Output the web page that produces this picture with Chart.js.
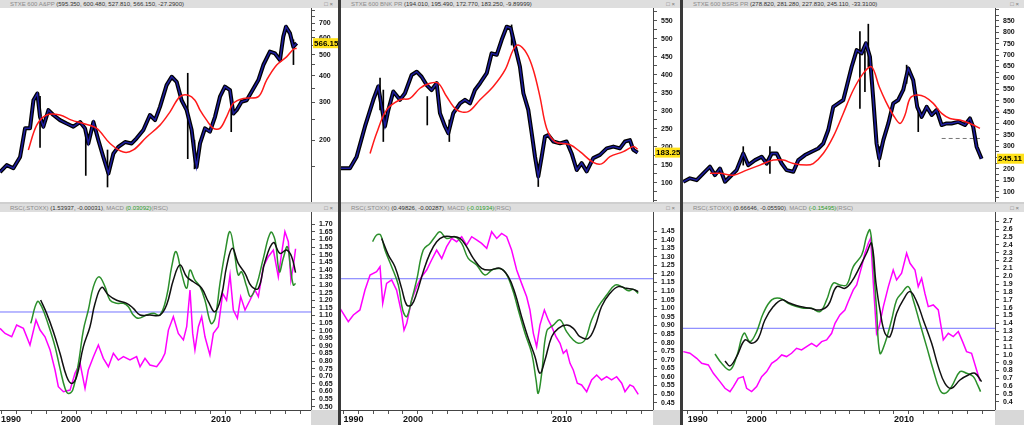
<!DOCTYPE html>
<html>
<head>
<meta charset="utf-8">
<script src="https://cdn.jsdelivr.net/npm/chart.js@4.4.0/dist/chart.umd.min.js"></script>
<style>
  body { margin: 0; width: 1024px; height: 425px; overflow: hidden; background: #fff; position: relative; font-family: "Liberation Sans", Arial, sans-serif; }
  .col { position: absolute; top: 0; height: 425px; background: #cfcfcf; }
  .bar { position: absolute; left: 0; right: 0; height: 8px; background: #dedede; font-size: 6px; line-height: 8px; color: #8a8a8a; white-space: nowrap; overflow: hidden; padding-left: 10px; box-sizing: border-box; }
  .bar b { font-weight: normal; color: #333; }
  .bar .g { color: #2a9a2a; }
  .bar .ic { position: absolute; right: 5px; top: 0; color: #777; }
  .sep { position: absolute; top: 0; width: 3px; height: 425px; background: #3a3a3a; }
  .corner { position: absolute; top: 410px; height: 15px; background: #d8d8d8; }
  canvas { position: absolute; left: 0; background: #fff; }
</style>
</head>
<body>
<script>
        // ---- STXE 600 A&PP ----
        const appPrice = [[1995.93,142],[1996.38,153],[1996.82,148],[1997.27,167],[1997.6,227],[1997.93,227],[1998.16,307],[1998.42,330],[1998.6,257],[1998.82,231],[1999.16,276],[1999.49,262],[1999.93,248],[2000.38,239],[2000.82,231],[2001.27,243],[2001.6,227],[2001.82,193],[2002.16,243],[2002.49,200],[2002.82,167],[2003.16,140],[2003.49,173],[2003.82,186],[2004.27,196],[2004.71,193],[2005.04,204],[2005.49,223],[2005.93,262],[2006.27,248],[2006.6,286],[2007.04,361],[2007.38,395],[2007.71,374],[2008.04,307],[2008.38,276],[2008.71,223],[2008.93,167],[2009.04,150],[2009.27,193],[2009.6,227],[2009.93,219],[2010.27,257],[2010.6,319],[2010.93,355],[2011.27,342],[2011.49,266],[2011.71,276],[2012.04,302],[2012.38,307],[2012.71,336],[2013.16,381],[2013.49,448],[2013.93,517],[2014.27,507],[2014.6,472],[2014.82,607],[2015.0,676],[2015.27,629],[2015.49,545],[2015.71,566.15]];
        const appAvg = [[1997.82,180],[1998.38,235],[1999.04,262],[1999.93,262],[2000.71,248],[2001.49,239],[2002.38,227],[2003.27,193],[2004.16,176],[2004.82,180],[2005.71,207],[2006.6,235],[2007.27,271],[2007.93,319],[2008.49,324],[2008.93,307],[2009.27,276],[2009.71,248],[2010.16,227],[2010.6,227],[2011.04,257],[2011.49,297],[2012.16,313],[2013.16,319],[2013.71,381],[2014.38,448],[2015.04,489],[2015.49,530],[2015.71,536]];
        const appSpikes = [[1998.6,185,320],[2001.65,137,223],[2003.1,121,180],[2008.45,164,410],[2008.9,147,200],[2011.35,219,286],[2015.5,450,587]];
        const appRsc = [[1995.93,1.015],[1996.27,0.982],[1996.71,0.96],[1997.04,1.037],[1997.49,1.015],[1997.93,0.906],[1998.33,1.07],[1998.6,1.004],[1998.93,0.96],[1999.27,0.873],[1999.6,0.741],[1999.82,0.631],[2000.16,0.598],[2000.6,0.609],[2000.93,0.719],[2001.27,0.785],[2001.6,0.62],[2001.82,0.741],[2002.16,0.829],[2002.49,0.906],[2002.82,0.818],[2003.16,0.763],[2003.49,0.851],[2003.82,0.807],[2004.16,0.829],[2004.6,0.807],[2005.04,0.829],[2005.27,0.763],[2005.6,0.818],[2005.93,0.774],[2006.38,0.763],[2006.71,0.807],[2006.93,0.851],[2007.16,1.004],[2007.49,1.092],[2007.82,0.982],[2008.16,0.939],[2008.38,1.026],[2008.6,1.268],[2008.78,0.982],[2008.93,0.873],[2009.16,1.026],[2009.38,1.092],[2009.6,0.96],[2009.93,0.84],[2010.16,0.982],[2010.49,1.026],[2010.78,1.246],[2011.04,1.2],[2011.27,1.366],[2011.49,1.136],[2011.76,1.081],[2011.98,1.224],[2012.27,1.136],[2012.6,1.2],[2012.93,1.268],[2013.16,1.224],[2013.49,1.421],[2013.82,1.487],[2014.16,1.531],[2014.49,1.355],[2014.71,1.509],[2014.93,1.652],[2015.16,1.586],[2015.33,1.333],[2015.49,1.421],[2015.64,1.539]];
        const appMacd = [[1997.98,1.048],[1998.42,1.191],[1998.71,1.158],[1999.16,1.037],[1999.6,0.895],[1999.93,0.752],[2000.27,0.62],[2000.49,0.587],[2000.78,0.609],[2001.16,0.785],[2001.49,1.004],[2001.82,1.136],[2002.16,1.29],[2002.53,1.355],[2002.93,1.29],[2003.27,1.2],[2003.71,1.18],[2004.16,1.18],[2004.49,1.158],[2004.82,1.103],[2005.16,1.081],[2005.71,1.103],[2006.16,1.114],[2006.6,1.103],[2007.04,1.224],[2007.38,1.421],[2007.67,1.52],[2008.04,1.377],[2008.38,1.279],[2008.6,1.399],[2008.93,1.333],[2009.27,1.29],[2009.6,1.2],[2010.0,1.048],[2010.27,1.081],[2010.6,1.311],[2010.93,1.509],[2011.27,1.652],[2011.6,1.487],[2011.82,1.366],[2012.04,1.388],[2012.38,1.29],[2012.64,1.224],[2013.04,1.3],[2013.49,1.476],[2013.98,1.647],[2014.27,1.597],[2014.56,1.388],[2014.82,1.476],[2015.09,1.553],[2015.31,1.41],[2015.49,1.3],[2015.64,1.311]];
        const appSignal = [[1998.64,1.202],[1999.04,1.114],[1999.49,0.993],[1999.93,0.851],[2000.38,0.697],[2000.71,0.653],[2001.04,0.697],[2001.49,0.895],[2001.93,1.026],[2002.27,1.18],[2002.71,1.285],[2003.16,1.235],[2003.71,1.2],[2004.38,1.18],[2004.82,1.147],[2005.27,1.103],[2005.93,1.103],[2006.6,1.103],[2007.04,1.169],[2007.49,1.333],[2007.93,1.432],[2008.38,1.355],[2008.82,1.322],[2009.38,1.279],[2009.82,1.191],[2010.27,1.125],[2010.71,1.235],[2011.04,1.421],[2011.42,1.542],[2011.82,1.443],[2012.27,1.377],[2012.71,1.29],[2013.16,1.279],[2013.6,1.454],[2014.16,1.579],[2014.6,1.509],[2015.04,1.531],[2015.38,1.487],[2015.64,1.382]];
        const appRef = 1.123;

        // ---- STXE 600 BNK PR ----
        const bnkPrice = [[1995.77,140],[1996.44,140],[1996.89,172],[1997.45,256],[1998.01,330],[1998.34,367],[1998.57,311],[1998.79,256],[1999.02,302],[1999.35,353],[1999.8,330],[2000.13,348],[2000.58,399],[2000.92,408],[2001.25,394],[2001.59,371],[2001.92,357],[2002.26,376],[2002.48,293],[2002.82,256],[2003.04,237],[2003.38,293],[2003.83,320],[2004.16,330],[2004.5,320],[2004.83,357],[2005.17,376],[2005.62,404],[2005.95,459],[2006.29,455],[2006.62,496],[2006.96,533],[2007.23,529],[2007.52,478],[2007.85,422],[2008.08,348],[2008.41,302],[2008.64,237],[2008.86,172],[2009.08,117],[2009.31,172],[2009.53,228],[2009.75,232],[2010.09,214],[2010.54,209],[2010.98,214],[2011.32,181],[2011.66,135],[2011.99,154],[2012.33,131],[2012.77,168],[2013.22,177],[2013.67,195],[2014.12,200],[2014.56,195],[2014.9,214],[2015.23,218],[2015.46,191],[2015.75,183.25]];
        const bnkAvg = [[1997.79,181],[1998.23,237],[1998.9,302],[1999.8,330],[2000.47,334],[2001.14,362],[2001.81,376],[2002.37,376],[2002.93,339],[2003.6,302],[2004.38,297],[2005.17,330],[2006.06,367],[2006.85,413],[2007.4,469],[2007.74,482],[2008.3,459],[2008.75,413],[2009.19,339],[2009.64,251],[2010.2,214],[2011.21,205],[2011.88,186],[2012.77,156],[2013.33,152],[2013.89,172],[2014.79,186],[2015.46,200],[2015.75,193]];
        const bnkSpikes = [[1998.46,302,390],[1998.68,214,357],[2001.63,260,339],[2003.11,214,274],[2007.29,482,538],[2009.08,89,140]];
        const bnkRsc = [[1995.77,1.0],[1996.33,0.922],[1996.67,0.961],[1997.11,0.99],[1997.45,1.106],[1997.79,1.194],[1998.23,1.213],[1998.46,1.242],[1998.64,1.029],[1998.9,1.145],[1999.24,1.165],[1999.57,1.106],[1999.91,0.97],[2000.07,0.873],[2000.25,0.912],[2000.58,1.048],[2000.92,1.126],[2001.25,1.184],[2001.59,1.223],[2001.92,1.281],[2002.26,1.339],[2002.6,1.29],[2002.93,1.359],[2003.27,1.407],[2003.6,1.388],[2003.94,1.417],[2004.27,1.368],[2004.61,1.417],[2004.94,1.398],[2005.28,1.378],[2005.62,1.349],[2005.95,1.446],[2006.29,1.407],[2006.62,1.436],[2006.96,1.417],[2007.29,1.339],[2007.63,1.223],[2007.96,1.145],[2008.3,1.067],[2008.52,0.99],[2008.75,0.854],[2008.97,0.776],[2009.19,0.902],[2009.49,0.99],[2009.75,0.932],[2009.98,0.893],[2010.27,0.834],[2010.54,0.796],[2010.76,0.737],[2010.98,0.757],[2011.21,0.679],[2011.43,0.64],[2011.7,0.563],[2011.99,0.553],[2012.33,0.514],[2012.66,0.582],[2013.0,0.611],[2013.33,0.582],[2013.67,0.601],[2014.0,0.582],[2014.34,0.601],[2014.68,0.563],[2014.9,0.514],[2015.23,0.553],[2015.46,0.543],[2015.79,0.498]];
        const bnkMacd = [[1997.96,1.388],[1998.23,1.427],[1998.5,1.427],[1998.79,1.339],[1999.24,1.242],[1999.69,1.135],[1999.98,0.99],[2000.25,0.951],[2000.58,1.048],[2000.92,1.165],[2001.36,1.339],[2001.81,1.378],[2002.15,1.417],[2002.48,1.446],[2002.93,1.407],[2003.49,1.417],[2003.94,1.378],[2004.38,1.291],[2004.94,1.252],[2005.5,1.194],[2006.06,1.227],[2006.73,1.223],[2007.29,1.126],[2007.74,0.99],[2008.19,0.854],[2008.64,0.737],[2008.93,0.582],[2009.08,0.504],[2009.31,0.621],[2009.64,0.864],[2010.09,0.902],[2010.54,0.932],[2010.98,0.864],[2011.43,0.815],[2011.77,0.796],[2012.21,0.815],[2012.66,0.932],[2013.11,1.01],[2013.67,1.077],[2014.23,1.135],[2014.68,1.126],[2015.12,1.102],[2015.46,1.11],[2015.79,1.087]];
        const bnkSignal = [[1998.57,1.407],[1999.02,1.31],[1999.46,1.242],[1999.91,1.116],[2000.25,1.019],[2000.58,1.019],[2000.92,1.087],[2001.36,1.213],[2001.81,1.32],[2002.26,1.388],[2002.71,1.417],[2003.27,1.417],[2003.83,1.407],[2004.27,1.359],[2004.72,1.291],[2005.28,1.233],[2005.84,1.223],[2006.51,1.233],[2007.07,1.184],[2007.52,1.087],[2007.96,0.951],[2008.41,0.825],[2008.86,0.718],[2009.19,0.621],[2009.53,0.699],[2009.98,0.834],[2010.43,0.883],[2010.98,0.902],[2011.43,0.883],[2011.88,0.834],[2012.44,0.825],[2012.89,0.893],[2013.33,1.01],[2013.89,1.087],[2014.45,1.126],[2015.01,1.116],[2015.46,1.11],[2015.79,1.097]];
        const bnkRef = 1.172;

        // ---- STXE 600 BSRS PR ----
        const bsrsPrice = [[1995.7,144],[1996.15,159],[1996.61,151],[1997.06,181],[1997.51,210],[1997.85,173],[1998.19,202],[1998.53,144],[1998.87,166],[1999.32,195],[1999.77,268],[2000.11,217],[2000.57,239],[2001.02,254],[2001.36,224],[2001.7,268],[2002.04,268],[2002.38,224],[2002.71,195],[2003.17,188],[2003.51,239],[2003.96,261],[2004.41,276],[2004.86,290],[2005.2,312],[2005.54,371],[2005.88,473],[2006.22,488],[2006.56,503],[2006.79,561],[2007.13,649],[2007.47,722],[2007.81,708],[2008.1,752],[2008.37,693],[2008.6,503],[2008.82,312],[2009.0,246],[2009.28,327],[2009.62,400],[2009.95,488],[2010.29,503],[2010.63,547],[2010.97,642],[2011.31,590],[2011.58,473],[2011.88,429],[2012.22,473],[2012.56,437],[2012.9,459],[2013.24,393],[2013.57,400],[2013.91,400],[2014.37,407],[2014.82,393],[2015.16,422],[2015.38,385],[2015.61,298],[2015.95,245.11]];
        const bsrsAvg = [[1997.51,181],[1998.19,181],[1999.1,173],[2000.0,195],[2000.9,217],[2001.81,239],[2002.49,239],[2003.17,224],[2004.07,217],[2004.52,224],[2005.2,268],[2005.88,342],[2006.56,444],[2007.24,547],[2007.92,620],[2008.48,649],[2009.0,561],[2009.46,495],[2009.95,437],[2010.41,400],[2010.75,437],[2011.09,510],[2011.54,525],[2012.1,517],[2012.67,488],[2013.24,444],[2013.8,422],[2014.48,415],[2015.16,400],[2015.84,378]];
        const bsrsSpikes = [[1999.77,217,298],[2001.58,181,298],[2007.69,466,803],[2008.03,540,720],[2008.26,649,836],[2009.0,210,298],[2010.86,576,656],[2011.65,364,459]];
        const bsrsFloor = [[2013.24,334],[2015.84,334]];
        const bsrsRsc = [[1995.7,1.041],[1996.15,1.02],[1996.61,0.956],[1996.95,0.893],[1997.4,0.871],[1997.74,0.765],[1998.19,0.659],[1998.53,0.574],[1998.87,0.532],[1999.1,0.596],[1999.43,0.702],[1999.77,0.723],[2000.0,0.574],[2000.34,0.532],[2000.68,0.596],[2001.02,0.723],[2001.36,0.787],[2001.7,0.893],[2002.04,0.935],[2002.38,0.999],[2002.71,0.978],[2003.05,1.02],[2003.39,1.083],[2003.73,1.062],[2004.07,1.105],[2004.41,1.147],[2004.75,1.105],[2005.09,1.168],[2005.43,1.19],[2005.77,1.274],[2006.0,1.402],[2006.33,1.508],[2006.67,1.571],[2006.9,1.678],[2007.24,1.826],[2007.47,1.89],[2007.81,2.123],[2008.03,2.293],[2008.26,2.42],[2008.42,2.484],[2008.6,1.911],[2008.82,1.274],[2009.0,1.359],[2009.28,1.614],[2009.62,1.868],[2009.95,2.08],[2010.18,1.953],[2010.52,2.038],[2010.86,2.293],[2011.09,2.165],[2011.43,2.08],[2011.65,1.868],[2011.88,1.974],[2012.1,1.784],[2012.33,1.614],[2012.67,1.635],[2013.01,1.571],[2013.35,1.19],[2013.69,1.274],[2014.03,1.232],[2014.37,1.296],[2014.66,1.168],[2014.93,1.041],[2015.27,1.02],[2015.61,0.808],[2015.84,0.666]];
        const bsrsMacd = [[1997.85,1.011],[1998.3,0.893],[1998.87,0.808],[1999.32,0.978],[1999.82,1.274],[2000.23,1.168],[2000.68,1.296],[2001.13,1.529],[2001.7,1.699],[2002.26,1.72],[2002.83,1.656],[2003.28,1.622],[2003.85,1.593],[2004.41,1.593],[2004.98,1.55],[2005.43,1.699],[2005.88,1.911],[2006.33,1.89],[2006.79,1.89],[2007.24,2.123],[2007.81,2.271],[2008.14,2.505],[2008.37,2.59],[2008.55,2.293],[2008.82,1.571],[2009.05,1.02],[2009.39,1.147],[2009.84,1.444],[2010.18,1.699],[2010.52,1.784],[2010.97,1.868],[2011.31,1.699],[2011.76,1.402],[2012.22,1.105],[2012.67,0.808],[2013.12,0.553],[2013.46,0.51],[2013.91,0.596],[2014.48,0.787],[2014.93,0.766],[2015.38,0.723],[2015.68,0.617],[2015.88,0.532]];
        const bsrsSignal = [[1998.53,0.922],[1998.87,0.859],[1999.32,0.978],[1999.89,1.19],[2000.34,1.147],[2000.79,1.211],[2001.24,1.444],[2001.81,1.614],[2002.38,1.699],[2002.94,1.656],[2003.62,1.614],[2004.3,1.593],[2004.98,1.571],[2005.54,1.635],[2006.11,1.868],[2006.67,1.847],[2007.13,1.932],[2007.69,2.123],[2008.14,2.293],[2008.48,2.42],[2008.78,1.911],[2009.05,1.571],[2009.39,1.274],[2009.73,1.232],[2010.18,1.529],[2010.63,1.699],[2011.09,1.805],[2011.54,1.678],[2011.99,1.444],[2012.56,1.147],[2013.01,0.85],[2013.46,0.638],[2013.91,0.574],[2014.48,0.68],[2015.05,0.744],[2015.5,0.766],[2015.95,0.659]];
        const bsrsRef = 1.338;

        // ---- axis ticks ----
        const yearTicks = steps(1996, 2016, 1);
        const yearLabels = { 1996: '1990', 2000: '2000', 2010: '2010' };
        const appPriceTicks = [150, 200, 250, 300, 350, 400, 450, 500, 550, 600, 650, 700, 750, 800];
        const appPriceLabels = [200, 300, 400, 500, 600, 700];
        const bnkPriceTicks = steps(50, 575, 25);
        const bnkPriceLabels = steps(100, 550, 50);
        const bsrsPriceTicks = steps(75, 900, 25);
        const bsrsPriceLabels = steps(100, 850, 50);
        const appRscTicks = steps(0.5, 1.7, 0.05);
        const bnkRscTicks = steps(0.45, 1.45, 0.05);
        const bsrsRscTicks = steps(0.4, 2.7, 0.1);

        function steps(lo, hi, step) {
            const out = [];
            for (let v = lo; v <= hi + step / 2; v += step) out.push(Math.round(v * 1000) / 1000);
            return out;
        }

        function pairs(list) {
            return list.map(p => ({ x: p[0], y: p[1] }));
        }

        const columns = [
            {
                left: 0, width: 338, plotW: 311, xMin: 1995.93, xMax: 2016.67,
                name: 'STXE 600 A&amp;PP', quote: '(595.350, 600.480, 527.810, 566.150, -27.2900)',
                rscQuote: '(1.53937, -0.00031)', macdQuote: '(0.03092)',
                price: appPrice, avg: appAvg, spikes: appSpikes, floor: null,
                priceType: 'logarithmic', priceMin: 103, priceMax: 826, priceTicks: appPriceTicks, priceLabels: appPriceLabels,
                rsc: appRsc, macd: appMacd, signal: appSignal, ref: appRef,
                rscMin: 0.478, rscMax: 1.781, rscTicks: appRscTicks, rscDigits: 2
            },
            {
                left: 341, width: 339, plotW: 312, xMin: 1995.84, xMax: 2016.78,
                name: 'STXE 600 BNK PR', quote: '(194.010, 195.490, 172.770, 183.250, -9.89999)',
                rscQuote: '(0.49826, -0.00287)', macdQuote: '(-0.01934)',
                price: bnkPrice, avg: bnkAvg, spikes: bnkSpikes, floor: null,
                priceType: 'linear', priceMin: 46, priceMax: 585, priceTicks: bnkPriceTicks, priceLabels: bnkPriceLabels,
                rsc: bnkRsc, macd: bnkMacd, signal: bnkSignal, ref: bnkRef,
                rscMin: 0.407, rscMax: 1.561, rscTicks: bnkRscTicks, rscDigits: 2
            },
            {
                left: 683, width: 341, plotW: 312, xMin: 1995.68, xMax: 2016.86,
                name: 'STXE 600 BSRS PR', quote: '(278.820, 281.280, 227.830, 245.110, -33.3100)',
                rscQuote: '(0.66646, -0.05590)', macdQuote: '(-0.15495)',
                price: bsrsPrice, avg: bsrsAvg, spikes: bsrsSpikes, floor: bsrsFloor,
                priceType: 'linear', priceMin: 55, priceMax: 907, priceTicks: bsrsPriceTicks, priceLabels: bsrsPriceLabels,
                rsc: bsrsRsc, macd: bsrsMacd, signal: bsrsSignal, ref: bsrsRef,
                rscMin: 0.298, rscMax: 2.818, rscTicks: bsrsRscTicks, rscDigits: 1
            }
        ];

        Chart.defaults.font.family = '"Liberation Sans", Arial, sans-serif';

        // yellow tag with the last close on the price axis
        const lastValueTag = {
            id: 'lastValueTag',
            afterDraw(chart, args, opts) {
                if (!opts.text) return;
                const ctx = chart.ctx;
                const y = chart.scales.y.getPixelForValue(opts.value);
                const x = chart.chartArea.right + 2;
                ctx.save();
                ctx.fillStyle = '#ffe11a';
                ctx.fillRect(x, y - 5, chart.width - x, 10);
                ctx.fillStyle = '#000';
                ctx.font = 'bold 8px "Liberation Sans", Arial';
                ctx.textBaseline = 'middle';
                ctx.fillText(opts.text, x + 1, y + 0.5);
                ctx.restore();
            }
        };

        function rightAxis(c, type, min, max, ticks, labels, digits) {
            return {
                type: type, position: 'right', min: min, max: max,
                afterFit: s => {
                    s.width = c.width - c.plotW;
                    // keep the plot full height, the labels sit well inside anyway
                    s.paddingTop = 0;
                    s.paddingBottom = 0;
                },
                afterBuildTicks: s => { s.ticks = ticks.map(v => ({ value: v })); },
                border: { display: true, color: '#444' },
                grid: { drawOnChartArea: false, drawTicks: true, tickLength: 4, color: '#555' },
                ticks: {
                    autoSkip: false, padding: 4, color: '#111',
                    font: { size: 7, weight: 'bold' },
                    callback: v => labels.includes(v) ? v.toFixed(digits) : ''
                }
            };
        }

        function timeAxis(c, show) {
            return {
                type: 'linear', min: c.xMin, max: c.xMax, offset: false, display: show,
                afterFit: s => {
                    s.height = show ? 15 : 0;
                    s.paddingLeft = 0;
                    s.paddingRight = 0;
                },
                afterBuildTicks: s => { s.ticks = yearTicks.map(v => ({ value: v })); },
                border: { display: true, color: '#444' },
                grid: { drawOnChartArea: false, tickLength: 4, color: '#555', offset: false },
                ticks: {
                    autoSkip: false, maxRotation: 0, align: 'start', padding: 0, color: '#111',
                    font: { size: 9, weight: 'bold' },
                    callback: v => yearLabels[v] || ''
                }
            };
        }

        const baseOptions = {
            responsive: false,
            animation: false,
            events: [],
            layout: { padding: 0 },
            elements: { point: { radius: 0 } }
        };

        function buildColumn(c, i) {
            const col = document.createElement('div');
            col.className = 'col';
            col.style.left = c.left + 'px';
            col.style.width = c.width + 'px';
            col.innerHTML = `
                <div class="bar" style="top:0">${c.name} <b>${c.quote}</b><span class="ic">&#9633; &#215;</span></div>
                <canvas id="top${i}" width="${c.width}" height="194" style="top:8px"></canvas>
                <div class="bar" style="top:204px">RSC(.STOXX) <b>${c.rscQuote}</b>, MACD <span class="g">${c.macdQuote}</span>(RSC)<span class="ic">&#9633; &#215;</span></div>
                <canvas id="bot${i}" width="${c.width}" height="213" style="top:212px"></canvas>
                <div class="corner" style="left:${c.plotW}px;width:${c.width - c.plotW}px"></div>`;
            document.body.appendChild(col);

            // price panel
            const priceSets = [
                { data: pairs(c.avg), borderColor: '#ff1a1a', borderWidth: 1.5, tension: 0.35 },
                { data: pairs(c.price), borderColor: '#1d1d9e', borderWidth: 1.5, tension: 0 },
                { data: pairs(c.price), borderColor: '#000', borderWidth: 4, tension: 0, borderJoinStyle: 'round' },
                {
                    type: 'bar', data: c.spikes.map(s => ({ x: s[0], y: [s[1], s[2]] })),
                    backgroundColor: '#000', barThickness: 1, grouped: false
                }
            ];
            if (c.floor) {
                priceSets.push({ data: pairs(c.floor), borderColor: '#777', borderWidth: 1, borderDash: [4, 3] });
            }
            const last = c.price[c.price.length - 1][1];
            new Chart(document.getElementById('top' + i), {
                type: 'line',
                data: { datasets: priceSets },
                options: Object.assign({}, baseOptions, {
                    scales: {
                        x: timeAxis(c, false),
                        y: rightAxis(c, c.priceType, c.priceMin, c.priceMax, c.priceTicks, c.priceLabels, 0)
                    },
                    plugins: {
                        legend: { display: false }, tooltip: { enabled: false },
                        lastValueTag: { value: last, text: last.toFixed(2) }
                    }
                }),
                plugins: [lastValueTag]
            });

            // relative strength panel
            const refLine = [[c.xMin, c.ref], [c.xMax, c.ref]];
            new Chart(document.getElementById('bot' + i), {
                type: 'line',
                data: {
                    datasets: [
                        { data: pairs(c.signal), borderColor: '#111', borderWidth: 1.5, tension: 0.4 },
                        { data: pairs(c.macd), borderColor: '#2b8f2b', borderWidth: 1.5, tension: 0.4 },
                        { data: pairs(c.rsc), borderColor: '#ff00ff', borderWidth: 1.5, tension: 0 },
                        { data: pairs(refLine), borderColor: '#7373ff', borderWidth: 1 }
                    ]
                },
                options: Object.assign({}, baseOptions, {
                    scales: {
                        x: timeAxis(c, true),
                        y: rightAxis(c, 'linear', c.rscMin, c.rscMax, c.rscTicks, c.rscTicks, c.rscDigits)
                    },
                    plugins: { legend: { display: false }, tooltip: { enabled: false } }
                })
            });
        }

        columns.forEach(buildColumn);

        // dark dividers between the three columns
        [338, 680].forEach(x => {
            const d = document.createElement('div');
            d.className = 'sep';
            d.style.left = x + 'px';
            document.body.appendChild(d);
        });
</script>
</body>
</html>
